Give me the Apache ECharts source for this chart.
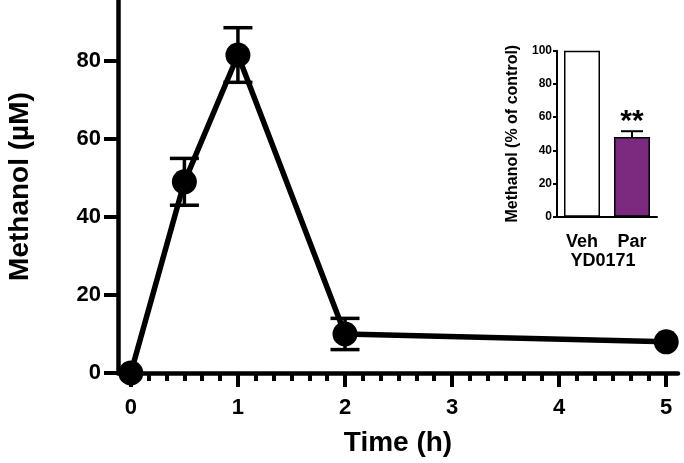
<!DOCTYPE html>
<html><head><meta charset="utf-8">
<script src="https://cdn.jsdelivr.net/npm/echarts@6/dist/echarts.min.js"></script>
<style>html,body{margin:0;padding:0;background:#fff}#c{width:684px;height:463px}</style>
</head><body><div id="c"></div>
<script>
const timeH = [0, 0.5, 1, 2, 5];
const methanolUM = [0, 49, 81.5, 10, 8];
const errUM = [0, 6, 7, 4, 0];
const xMajorTicks = [0, 1, 2, 3, 4, 5];
const xMinorTicks = [];
for (let h = 0; h < 5; h++) for (let k = 1; k < 6; k++) xMinorTicks.push(+(h + k / 6).toFixed(4));
const yTicks = [0, 20, 40, 60, 80];
const insetCats = ['Veh', 'Par'];
const insetVals = [100, 48];
const insetErr = [0, 3.5];
const insetTicks = [0, 20, 40, 60, 80, 100];

const FONT = '"Liberation Sans", Arial, sans-serif';
const chart = echarts.init(document.getElementById('c'), null, {renderer: 'canvas'});

function errRender(capW) {
  return function (params, api) {
    const x = api.value(0), y = api.value(1), e = api.value(2);
    if (!e) return null;
    const top = api.coord([x, y + e]);
    const bot = api.coord([x, y - e]);
    const st = {stroke: '#000', lineWidth: 3.5};
    return {type: 'group', children: [
      {type: 'line', shape: {x1: top[0], y1: top[1], x2: bot[0], y2: bot[1]}, style: st},
      {type: 'line', shape: {x1: top[0] - capW / 2, y1: top[1], x2: top[0] + capW / 2, y2: top[1]}, style: st},
      {type: 'line', shape: {x1: bot[0] - capW / 2, y1: bot[1], x2: bot[0] + capW / 2, y2: bot[1]}, style: st}
    ]};
  };
}

chart.setOption({
  animation: false,
  textStyle: {fontFamily: FONT},
  grid: [
    {left: 118, top: 0, width: 560, height: 373, containLabel: false, outerBoundsMode: 'none'},
    {left: 557, top: 50.7, width: 100, height: 166, containLabel: false, outerBoundsMode: 'none'}
  ],
  xAxis: [
    {type: 'value', gridIndex: 0, min: -0.12, max: 5.11, position: 'bottom',
      name: 'Time (h)', nameLocation: 'middle', nameGap: 56,
      nameTextStyle: {fontSize: 28, fontWeight: 'bold', color: '#000', fontFamily: FONT},
      axisLine: {show: true, onZero: false, lineStyle: {color: '#000', width: 4.5}},
      axisTick: {show: true, customValues: xMajorTicks, length: 14, lineStyle: {color: '#000', width: 4}},
      axisLabel: {customValues: xMajorTicks, fontSize: 22, fontWeight: 'bold', color: '#000', margin: 24, fontFamily: FONT},
      splitLine: {show: false}},
    {type: 'value', gridIndex: 0, min: -0.12, max: 5.11, position: 'bottom',
      axisLine: {show: false, onZero: false},
      axisTick: {show: true, customValues: xMinorTicks, length: 8, lineStyle: {color: '#000', width: 4}},
      axisLabel: {show: false}, splitLine: {show: false}},
    {type: 'category', gridIndex: 1, data: insetCats, boundaryGap: true,
      axisLine: {show: true, onZero: false, lineStyle: {color: '#000', width: 2}},
      axisTick: {show: false},
      axisLabel: {fontSize: 18, fontWeight: 'bold', color: '#000', margin: 16, fontFamily: FONT}}
  ],
  yAxis: [
    {type: 'value', gridIndex: 0, min: 0, max: 95.6,
      name: 'Methanol (\u00b5M)', nameLocation: 'middle', nameGap: 84, nameRotate: 90,
      nameTextStyle: {fontSize: 28, fontWeight: 'bold', color: '#000', fontFamily: FONT},
      axisLine: {show: true, onZero: false, lineStyle: {color: '#000', width: 4.5}},
      axisTick: {show: true, customValues: yTicks, length: 14, lineStyle: {color: '#000', width: 4}},
      axisLabel: {customValues: yTicks, fontSize: 22, fontWeight: 'bold', color: '#000', margin: 17, fontFamily: FONT},
      splitLine: {show: false}},
    {type: 'value', gridIndex: 1, min: 0, max: 100,
      name: 'Methanol (% of control)', nameLocation: 'middle', nameGap: 36, nameRotate: 90,
      nameTextStyle: {fontSize: 16, fontWeight: 'bold', color: '#000', fontFamily: FONT},
      axisLine: {show: true, onZero: false, lineStyle: {color: '#000', width: 2}},
      axisTick: {show: true, customValues: insetTicks, length: 4, lineStyle: {color: '#000', width: 2}},
      axisLabel: {customValues: insetTicks, fontSize: 12, fontWeight: 'bold', color: '#000', margin: 5, fontFamily: FONT},
      splitLine: {show: false}}
  ],
  series: [
    {type: 'line', xAxisIndex: 0, yAxisIndex: 0, clip: false,
      data: timeH.map((t, i) => [t, methanolUM[i]]),
      lineStyle: {color: '#000', width: 5.5}, itemStyle: {color: '#000'},
      symbol: 'circle', symbolSize: 25, z: 3},
    {type: 'custom', xAxisIndex: 0, yAxisIndex: 0, clip: false, z: 2,
      data: timeH.map((t, i) => [t, methanolUM[i], errUM[i]]),
      renderItem: errRender(29)},
    {type: 'bar', xAxisIndex: 2, yAxisIndex: 1, barWidth: 36, z: 2,
      data: insetVals.map((v, i) => i === 1 ?
        {value: v, itemStyle: {color: '#7b2a7f', borderColor: '#000', borderWidth: 1.5},
          label: {show: true, position: 'top', distance: 0, formatter: '**', fontSize: 30, fontWeight: 'bold', color: '#000', fontFamily: FONT}} :
        {value: v, itemStyle: {color: '#fff', borderColor: '#000', borderWidth: 1.5}})},
    {type: 'custom', xAxisIndex: 2, yAxisIndex: 1, z: 3,
      data: insetCats.map((c, i) => [i, insetVals[i], insetErr[i]]),
      renderItem: function (params, api) {
        const i = api.value(0), y = api.value(1), e = api.value(2);
        if (!e) return null;
        const top = api.coord([i, y + e]), bot = api.coord([i, y]);
        const st = {stroke: '#000', lineWidth: 2};
        return {type: 'group', children: [
          {type: 'line', shape: {x1: top[0], y1: top[1], x2: bot[0], y2: bot[1]}, style: st},
          {type: 'line', shape: {x1: top[0] - 11, y1: top[1], x2: top[0] + 11, y2: top[1]}, style: st}
        ]};
      }}
  ],
  graphic: [
    {type: 'text', x: 603, y: 252, style: {text: 'YD0171', fontSize: 18, fontWeight: 'bold', fill: '#000', fontFamily: FONT, align: 'center'}}
  ]
});
</script></body></html>
